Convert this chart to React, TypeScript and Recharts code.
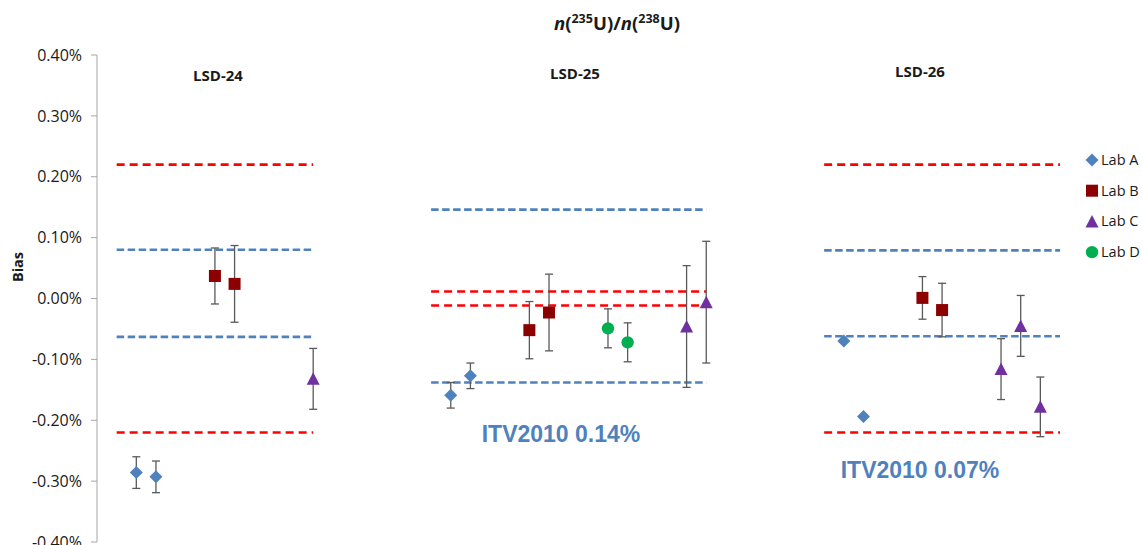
import React from 'react';
import { ScatterChart, Scatter, XAxis, YAxis, ReferenceLine, ErrorBar } from 'recharts';

// x positions are slot indices along a hidden numeric axis (0..49)
const groupNames = ['LSD-24', 'LSD-25', 'LSD-26'];

const labAX = [2, 3, 18, 19, 38, 39];
const labABias = [-0.286, -0.293, -0.159, -0.127, -0.07, -0.194];
const labAErr = [0.026, 0.026, 0.021, 0.021, 0, 0];

const labBX = [6, 7, 22, 23, 42, 43];
const labBBias = [0.037, 0.024, -0.052, -0.023, 0.001, -0.019];
const labBErr = [0.046, 0.063, 0.047, 0.063, 0.035, 0.044];

const labCX = [11, 30, 31, 46, 47, 48];
const labCBias = [-0.132, -0.046, -0.006, -0.116, -0.045, -0.178];
const labCErr = [0.05, 0.1, 0.1, 0.05, 0.05, 0.049];

const labDX = [26, 27];
const labDBias = [-0.049, -0.072];
const labDErr = [0.032, 0.032];

// limit lines per group (red = stated uncertainty, blue = ITV range)
const lineStart = [1, 17, 37];
const lineEnd = [11, 31, 49];
const redUpper = [0.22, 0.0115, 0.22];
const redLower = [-0.22, -0.0115, -0.22];
const blueUpper = [0.08, 0.146, 0.079];
const blueLower = [-0.063, -0.138, -0.062];

const yTicks = [-0.4, -0.3, -0.2, -0.1, 0, 0.1, 0.2, 0.3, 0.4];

const itvLabels = ['ITV2010 0.14%', 'ITV2010 0.07%'];

const toRows = (xs: number[], ys: number[], errs: number[]) =>
  xs.map((x, i) => ({ x, y: ys[i], err: errs[i] }));

const COLORS = {
  a: '#4F81BD',
  b: '#8B0000',
  c: '#7030A0',
  d: '#00B050',
  red: '#FF0000',
  blue: '#4F81BD',
};

const FONT = '"Open Sans", "Liberation Sans", sans-serif';

const Diamond = ({ cx, cy, fill }: any) => (
  <path d={`M${cx},${cy - 6.5}L${cx + 6.5},${cy}L${cx},${cy + 6.5}L${cx - 6.5},${cy}Z`} fill={fill} />
);
const Square = ({ cx, cy, fill }: any) => (
  <rect x={cx - 6} y={cy - 6} width={12} height={12} fill={fill} />
);
const Triangle = ({ cx, cy, fill }: any) => (
  <path d={`M${cx},${cy - 6.5}L${cx + 6.5},${cy + 6}L${cx - 6.5},${cy + 6}Z`} fill={fill} />
);
const Circle = ({ cx, cy, fill }: any) => <circle cx={cx} cy={cy} r={6.2} fill={fill} />;

const series = [
  { name: 'Lab A', data: toRows(labAX, labABias, labAErr), color: COLORS.a, Shape: Diamond },
  { name: 'Lab B', data: toRows(labBX, labBBias, labBErr), color: COLORS.b, Shape: Square },
  { name: 'Lab C', data: toRows(labCX, labCBias, labCErr), color: COLORS.c, Shape: Triangle },
  { name: 'Lab D', data: toRows(labDX, labDBias, labDErr), color: COLORS.d, Shape: Circle },
];

const groupLabelPos = [
  { x: 218, y: 81 },
  { x: 575, y: 79 },
  { x: 920, y: 77 },
];
const itvPos = [
  { x: 561, y: 442 },
  { x: 920, y: 478 },
];

export default function App() {
  return (
    <div style={{ position: 'absolute', left: 0, top: 0, width: 1142, height: 545, background: '#fff' }}>
      <ScatterChart width={1142} height={545} margin={{ top: 55, right: 82, bottom: 3, left: 0 }}>
        <XAxis type="number" dataKey="x" domain={[0, 49]} hide />
        <YAxis
          type="number"
          dataKey="y"
          width={97}
          domain={[-0.4, 0.4]}
          ticks={yTicks}
          interval={0}
          allowDataOverflow
          tickFormatter={(v: number) => `${v.toFixed(2)}%`}
          tick={{ fill: '#1a1a1a', fontSize: 16, fontFamily: FONT }}
          axisLine={{ stroke: '#a6a6a6' }}
          tickLine={{ stroke: '#a6a6a6' }}
          tickSize={6}
          tickMargin={9}
        />
        {lineStart.map((s, i) => (
          <React.Fragment key={`lines-${i}`}>
            {[redUpper[i], redLower[i]].map((v, j) => (
              <ReferenceLine
                key={`r-${i}-${j}`}
                segment={[{ x: s, y: v }, { x: lineEnd[i], y: v }]}
                stroke={COLORS.red}
                strokeWidth={2.6}
                strokeDasharray="8 5"
              />
            ))}
            {[blueUpper[i], blueLower[i]].map((v, j) => (
              <ReferenceLine
                key={`b-${i}-${j}`}
                segment={[{ x: s, y: v }, { x: lineEnd[i], y: v }]}
                stroke={COLORS.blue}
                strokeWidth={2.6}
                strokeDasharray="7.5 3.5"
              />
            ))}
          </React.Fragment>
        ))}
        {series.map(({ name, data, color, Shape }) => (
          <Scatter
            key={name}
            name={name}
            data={data}
            fill={color}
            isAnimationActive={false}
            shape={(p: any) => <Shape cx={p.cx} cy={p.cy} fill={color} />}
          >
            <ErrorBar dataKey="err" direction="y" width={4} stroke="#595959" strokeWidth={1.3} />
          </Scatter>
        ))}
      </ScatterChart>

      <svg
        width={1142}
        height={545}
        style={{ position: 'absolute', left: 0, top: 0, pointerEvents: 'none' }}
        fontFamily={FONT}
      >
        <text x={617} y={30} textAnchor="middle" fontWeight="bold" fontSize={18.5} fill="#1a1a1a">
          <tspan fontStyle="italic">n</tspan>
          <tspan>(</tspan>
          <tspan fontSize={12.5} dy={-7}>235</tspan>
          <tspan dy={7}>U)/</tspan>
          <tspan fontStyle="italic">n</tspan>
          <tspan>(</tspan>
          <tspan fontSize={12.5} dy={-7}>238</tspan>
          <tspan dy={7}>U)</tspan>
        </text>

        <text
          x={17}
          y={267}
          transform="rotate(-90 17 267)"
          textAnchor="middle"
          dominantBaseline="central"
          fontWeight="bold"
          fontSize={14.5}
          fill="#1a1a1a"
        >
          Bias
        </text>

        {groupNames.map((g, i) => (
          <text
            key={g}
            x={groupLabelPos[i].x}
            y={groupLabelPos[i].y}
            textAnchor="middle"
            fontWeight="bold"
            fontSize={15}
            fill="#1a1a1a"
          >
            {g}
          </text>
        ))}

        {itvLabels.map((t, i) => (
          <text
            key={t}
            x={itvPos[i].x}
            y={itvPos[i].y}
            textAnchor="middle"
            fontWeight="bold"
            fontSize={23}
            fontFamily='"Liberation Sans", Arial, sans-serif'
            fill={COLORS.blue}
          >
            {t}
          </text>
        ))}

        {series.map(({ name, color, Shape }, i) => {
          const y = 160 + i * 30.7;
          return (
            <g key={name}>
              <Shape cx={1092} cy={y} fill={color} />
              <text x={1101} y={y + 5} fontSize={14.5} fill="#1a1a1a">
                {name}
              </text>
            </g>
          );
        })}
      </svg>
    </div>
  );
}
